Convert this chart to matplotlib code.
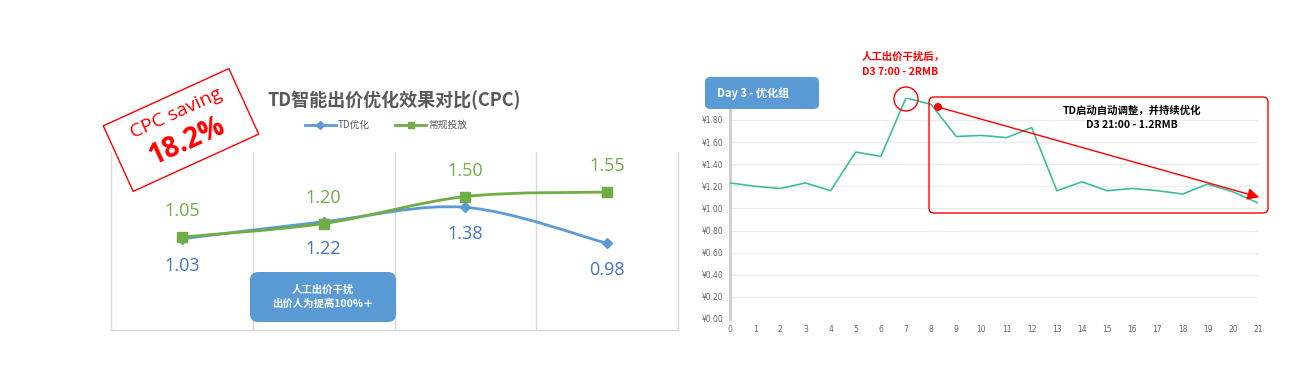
import matplotlib
matplotlib.use("Agg")
import matplotlib.pyplot as plt
import numpy as np
from matplotlib.path import Path
from matplotlib.patches import PathPatch, FancyBboxPatch, Rectangle, Circle, FancyArrowPatch
from matplotlib.lines import Line2D
import matplotlib.transforms as mtransforms

plt.rcParams['font.family'] = ['Noto Sans CJK SC', 'DejaVu Sans']

# ---------------- data ----------------
left_title = "TD智能出价优化效果对比(CPC)"
left_categories = ["1", "2", "3", "4"]
td_values = [1.03, 1.22, 1.38, 0.98]
normal_values = [1.05, 1.20, 1.50, 1.55]
td_label = "TD优化"
normal_label = "常规投放"

hours = list(range(22))
day3_cpc = [1.23, 1.20, 1.18, 1.23, 1.16, 1.51, 1.47, 2.00, 1.94, 1.65, 1.66,
            1.64, 1.73, 1.16, 1.24, 1.16, 1.18, 1.16, 1.13, 1.22, 1.15, 1.05]
right_yticks = [0.0, 0.2, 0.4, 0.6, 0.8, 1.0, 1.2, 1.4, 1.6, 1.8]

W, H = 1303, 365
fig = plt.figure(figsize=(W / 100, H / 100), dpi=100)
fig.patch.set_facecolor('white')
TPX = mtransforms.Affine2D().scale(1 / W, 1 / H) + fig.transFigure


def fx(px):
    return px / W


def fy(py):
    return 1 - py / H


BLUE_LINE = '#5B9BD5'
BLUE_LAB = '#4472C4'
GREEN = '#70AD47'


def smooth_path(xs, ys):
    pts = np.column_stack([xs, ys]).astype(float)
    n = len(pts)
    verts = [pts[0]]
    codes = [Path.MOVETO]
    for i in range(n - 1):
        p0 = pts[i - 1] if i > 0 else pts[i]
        p1 = pts[i]
        p2 = pts[i + 1]
        p3 = pts[i + 2] if i + 2 < n else pts[i + 1]
        c1 = p1 + (p2 - p0) / 6.0
        c2 = p2 - (p3 - p1) / 6.0
        verts += [c1, c2, p2]
        codes += [Path.CURVE4] * 3
    return Path(verts, codes)


def px_box(x0, y0, x1, y1, r, **kw):
    """rounded box given in image pixel coords (y downward)"""
    p = FancyBboxPatch((x0, H - y1), x1 - x0, y1 - y0,
                       boxstyle=f"round,pad=0,rounding_size={r}",
                       transform=TPX, **kw)
    fig.add_artist(p)
    return p


# ---------------- left chart ----------------
axL = fig.add_axes([fx(111), fy(330), fx(678 - 111), (330 - 152) / H])
xpos = np.arange(len(left_categories)) + 0.5
axL.set_xlim(0, len(left_categories))
axL.set_ylim(0.017, 1.995)
axL.spines['top'].set_visible(False)
for s in ['left', 'right', 'bottom']:
    axL.spines[s].set_color('#D9D9D9')
    axL.spines[s].set_linewidth(1.0)
axL.set_xticks([1, 2, 3])
axL.xaxis.grid(True, color='#D9D9D9', linewidth=1.0)
axL.tick_params(left=False, bottom=False, labelleft=False, labelbottom=False)

axL.add_patch(PathPatch(smooth_path(xpos, td_values), fill=False,
                        edgecolor=BLUE_LINE, linewidth=2.0, zorder=3))
axL.add_patch(PathPatch(smooth_path(xpos, normal_values), fill=False,
                        edgecolor=GREEN, linewidth=2.0, zorder=4))
axL.plot(xpos, td_values, ls='none', marker='D', color=BLUE_LINE, markersize=5, zorder=5)
axL.plot(xpos, normal_values, ls='none', marker='s', color=GREEN, markersize=7, zorder=6)

for x, v in zip(xpos, td_values):
    axL.annotate(f"{v:.2f}", (x, v), xytext=(0, -27), textcoords='offset pixels',
                 ha='center', va='center', fontsize=13, color=BLUE_LAB,
                 family=['Open Sans', 'DejaVu Sans'])
for x, v in zip(xpos, normal_values):
    axL.annotate(f"{v:.2f}", (x, v), xytext=(0, 26), textcoords='offset pixels',
                 ha='center', va='center', fontsize=13, color=GREEN,
                 family=['Open Sans', 'DejaVu Sans'])

fig.text(fx(394), fy(100), left_title, ha='center', va='center', fontsize=13,
         fontweight='bold', color='#595959')

handles = [Line2D([], [], color=BLUE_LINE, lw=2, marker='D', markersize=4),
           Line2D([], [], color=GREEN, lw=2, marker='s', markersize=5)]
fig.legend(handles, [td_label, normal_label], loc='center',
           bbox_to_anchor=(fx(386), fy(125)), ncol=2, frameon=False,
           fontsize=7, handlelength=3.2, handletextpad=0.2, columnspacing=2.6,
           labelcolor='#595959')

# blue note box
px_box(250, 272, 396, 322, 8, facecolor='#5B9BD5', edgecolor='none')
fig.text(fx(323), fy(297), "人工出价干扰\n出价人为提高100%＋", ha='center', va='center',
         fontsize=7.5, fontweight='bold', color='white', linespacing=1.4)

# CPC saving stamp
cx, cy = 181, 130
ang = 24.5
stamp_w, stamp_h = 138, 72
tr = mtransforms.Affine2D().rotate_deg_around(cx, H - cy, ang)
rect = Rectangle((cx - stamp_w / 2, H - cy - stamp_h / 2), stamp_w, stamp_h,
                 fill=False, edgecolor='red', linewidth=1.0, transform=tr + TPX)
fig.add_artist(rect)
fig.text(fx(176), fy(113), "CPC saving", rotation=ang, rotation_mode='anchor',
         ha='center', va='center', fontsize=14, color='red',
         family=['Open Sans', 'DejaVu Sans'])
fig.text(fx(187), fy(141), "18.2%", rotation=ang, rotation_mode='anchor',
         ha='center', va='center', fontsize=20, color='red', fontweight='bold',
         family=['Open Sans', 'DejaVu Sans'])

# ---------------- right chart ----------------
axR = fig.add_axes([fx(730), fy(319), fx(1258 - 730), (319 - 97.8) / H])
axR.set_xlim(0, 21)
axR.set_ylim(0, 2.0)
axR.plot(hours, day3_cpc, color='#3DBE9B', linewidth=1.2, zorder=3)
axR.set_yticks(right_yticks)
axR.set_yticklabels([f"¥{v:.2f}" for v in right_yticks])
axR.set_xticks(hours)
axR.yaxis.grid(True, color='#EBEBEB', linewidth=0.9)
for s in ['top', 'right', 'bottom']:
    axR.spines[s].set_visible(False)
axR.spines['left'].set_color('#CCCCCC')
axR.spines['left'].set_linewidth(2)
axR.tick_params(axis='both', length=0, labelsize=5.5, labelcolor='#666666', pad=4)
axR.tick_params(axis='y', pad=5)
for lab in axR.get_xticklabels() + axR.get_yticklabels():
    lab.set_family(['DejaVu Sans'])

# Day 3 box
px_box(705, 77, 819, 109, 5, facecolor='#5B9BD5', edgecolor='none', zorder=5)
fig.text(fx(717), fy(93), "Day 3 - 优化组", ha='left', va='center', fontsize=8,
         fontweight='bold', color='white', zorder=6)

# red annotations
fig.text(fx(862), fy(57), "人工出价干扰后，", ha='left', va='center', fontsize=7.5,
         fontweight='bold', color='red')
fig.text(fx(862), fy(72), "D3 7:00 - 2RMB", ha='left', va='center', fontsize=7.5,
         fontweight='bold', color='red')
fig.add_artist(Circle((906, H - 99), 12, fill=False, edgecolor='red', linewidth=1.0,
                      transform=TPX))

px_box(929, 97, 1268, 213, 5, fill=False, edgecolor='red', linewidth=1.0)
fig.add_artist(Circle((938, H - 107), 4, facecolor='red', edgecolor='none', transform=TPX))
arrow = FancyArrowPatch((938, H - 107), (1262, H - 198), transform=TPX,
                        arrowstyle='-|>,head_length=7,head_width=3.5',
                        color='red', linewidth=1.0, mutation_scale=1)
fig.add_artist(arrow)
fig.text(fx(1132), fy(111), "TD启动自动调整，并持续优化", ha='center', va='center',
         fontsize=7.5, fontweight='bold', color='black')
fig.text(fx(1132), fy(125), "D3 21:00 - 1.2RMB", ha='center', va='center',
         fontsize=7.5, fontweight='bold', color='black')

fig.savefig("out.png", dpi=100, facecolor='white')
